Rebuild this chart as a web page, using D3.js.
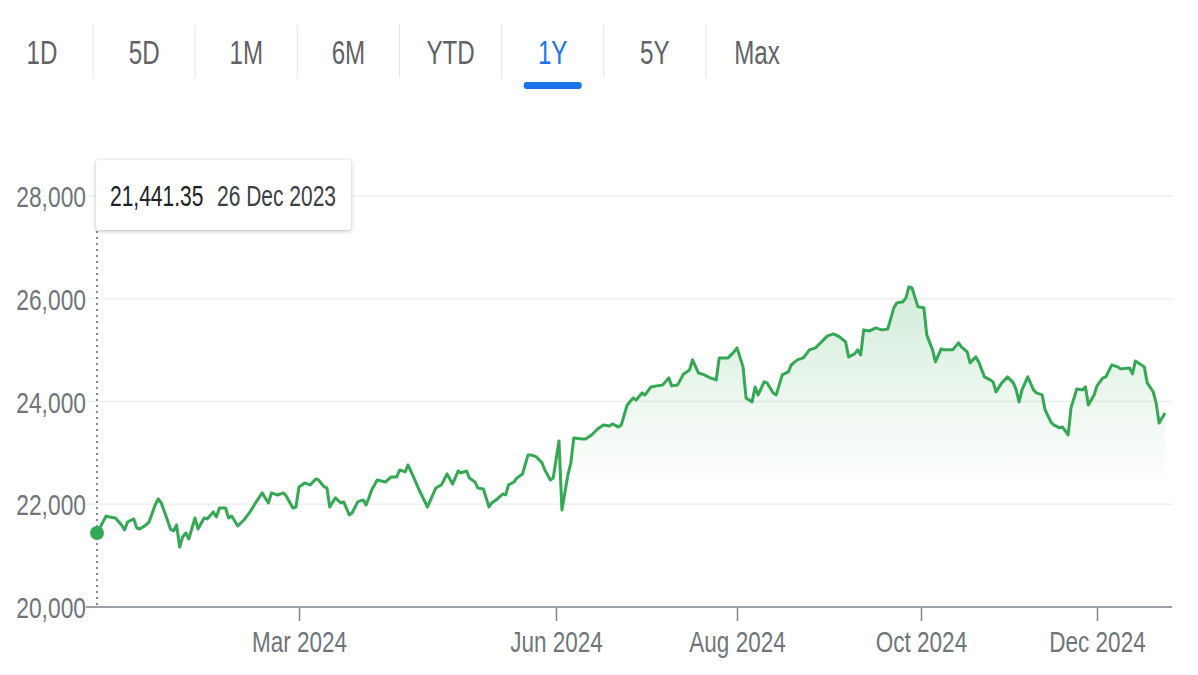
<!DOCTYPE html>
<html>
<head>
<meta charset="utf-8">
<script src="https://cdn.jsdelivr.net/npm/d3@7"></script>
<style>
  html, body { margin: 0; padding: 0; background: #fff; }
  svg { display: block; font-family: "Liberation Sans", Arial, sans-serif; }
</style>
</head>
<body>
<svg id="chart" width="1198" height="675"></svg>
<script>
// ---------------- data ----------------
const startDate = "2023-12-26";
// calendar-day offsets from startDate of each sampled close
const dayOffsets = [
  0,3,4,6,8,9,10,12,13,14,16,17,19,20,21,23,24,25,26,27,28,29,30,32,33,35,36,38,39,40,42,43,44,46,48,50,52,54,56,57,59,61,62,64,65,
  66,68,70,72,73,75,76,77,79,81,82,84,85,87,89,90,91,92,94,97,99,101,102,104,105,107,109,112,115,117,119,121,123,124,126,127,129,130,132,134,135,137,139,140,141,143,144,146,148,149,151,153,154,156,157,
  159,160,162,163,164,167,168,170,172,174,176,177,179,180,181,182,184,185,187,188,190,192,194,196,197,199,201,203,204,206,208,210,212,213,216,218,
  219,221,222,224,225,226,228,229,231,232,234,236,237,239,241,243,245,247,249,251,253,255,256,258,259,260,261,263,265,267,269,271,272,274,275,276,277,279,
  281,282,284,285,287,288,291,293,294,296,297,299,300,302,304,305,306,308,310,312,313,314,315,317,319,320,322,323,325,326,328,329,331,332,334,336,337,338,340,
  341,343,344,346,348,349,352,353,354,357,358,360,361,362,364
];
const closeValues = [
  21441.35,21772,21753,21733,21597,21499,21655,21714,21538,21519,21597,21655,21986,22103,22025,21694,21519,21480,21597,21168,21363,21441,21324,21733,21519,21733,21714,21850,21753,21928,21928,21733,21772,21577,21694,21850,22045,22220,22025,22220,22181,22220,22142,21928,21947,
  22337,22415,22376,22493,22473,22337,22317,21947,22123,22025,22045,21792,21830,22045,22084,21986,22123,22278,22473,22434,22532,22532,22668,22629,22765,22532,22278,21947,22317,22376,22590,22395,22648,22610,22648,22512,22434,22317,22298,21947,22025,22103,22200,22181,22376,22434,22512,22590,22960,22960,22921,22804,22668,22473,22512,
  23233,21889,22570,22804,23291,23272,23272,23349,23466,23544,23525,23564,23505,23544,23739,23933,24069,24031,24167,24128,24284,24304,24323,24460,24304,24323,24537,24615,24810,24557,24518,24460,24420,24849,24849,24966,
  25044,24674,24069,23992,24284,24128,24382,24362,24167,24128,24518,24576,24712,24810,24849,25005,25044,25161,25277,25316,25258,25161,24868,24927,25005,24907,25394,25374,25433,25394,25413,25823,25920,25940,26017,26232,26212,25842,
  25823,25297,25005,24771,25024,25005,25005,25141,25063,24966,24752,24868,24771,24479,24420,24382,24187,24362,24479,24362,24226,23992,24226,24479,24226,24167,24128,23836,23603,23544,23486,23505,23349,23875,24245,24226,24284,23933,24128,
  24304,24460,24479,24712,24674,24635,24654,24537,24790,24674,24362,24187,23973,23583,23778
];
const yTicks = [20000, 22000, 24000, 26000, 28000];
const xTickDates = ["2024-03-01", "2024-06-01", "2024-08-01", "2024-10-01", "2024-12-01"];
const xTickLabels = ["Mar 2024", "Jun 2024", "Aug 2024", "Oct 2024", "Dec 2024"];
const rangeTabs = ["1D", "5D", "1M", "6M", "YTD", "1Y", "5Y", "Max"];
const selectedTab = "1Y";
const endDate = "2024-12-24";

// ---------------- setup ----------------
const parse = d3.utcParse("%Y-%m-%d");
const d0 = parse(startDate);
const data = dayOffsets.map((o, i) => ({ date: d3.utcDay.offset(d0, o), value: closeValues[i] }));
const tickDates = xTickDates.map(parse);

const svg = d3.select("#chart");
const GREEN = "#34a853";
const GRAY_TEXT = "#70757a";

// condense text horizontally (the reference glyphs are narrow)
function condense(sel, f) {
  sel.each(function () {
    const w = this.getComputedTextLength();
    d3.select(this).attr("textLength", w * f).attr("lengthAdjust", "spacingAndGlyphs");
  });
}

// Trading-day axis: piecewise time scale anchored on month ticks
const x = d3.scaleUtc()
  .domain([d0, ...tickDates, parse(endDate)])
  .range([97, 299, 556, 737, 921, 1097, 1165]);
const y = d3.scaleLinear().domain([20000, 28000]).range([607, 196]);
const plotLeft = 86, plotRight = 1172;

// ---------------- tabs ----------------
const tabX = d3.scalePoint().domain(rangeTabs).range([42, 757]);
const tabs = svg.append("g");
tabs.selectAll("line.sep")
  .data(rangeTabs.slice(1))
  .join("line")
  .attr("x1", d => tabX(d) - tabX.step() / 2)
  .attr("x2", d => tabX(d) - tabX.step() / 2)
  .attr("y1", 25).attr("y2", 78)
  .attr("stroke", "#e3e5e8").attr("stroke-width", 1);
tabs.selectAll("text")
  .data(rangeTabs)
  .join("text")
  .attr("x", d => tabX(d))
  .attr("y", 64)
  .attr("text-anchor", "middle")
  .attr("font-size", 34)
  .attr("fill", d => d === selectedTab ? "#1a73e8" : "#5f6368")
  .text(d => d)
  .call(condense, 0.71);
tabs.append("rect")
  .attr("x", tabX(selectedTab) - 29).attr("y", 82)
  .attr("width", 58).attr("height", 7).attr("rx", 3)
  .attr("fill", "#1a73e8");

// ---------------- gridlines & y labels ----------------
const grid = svg.append("g");
grid.selectAll("line")
  .data(yTicks.slice(1))
  .join("line")
  .attr("x1", plotLeft).attr("x2", plotRight)
  .attr("y1", d => y(d)).attr("y2", d => y(d))
  .attr("stroke", "#eeeff1").attr("stroke-width", 1.5);

const yAxis = svg.append("g")
  .attr("transform", `translate(${plotLeft},0)`)
  .call(d3.axisLeft(y).tickValues(yTicks).tickFormat(d3.format(",")).tickSize(0).tickPadding(0));
yAxis.select(".domain").remove();
yAxis.selectAll("text")
  .attr("font-size", 30)
  .attr("font-family", "Liberation Sans, Arial, sans-serif")
  .attr("fill", GRAY_TEXT)
  .attr("dy", "0.35em")
  .call(condense, 0.76);

// ---------------- area + line ----------------
const defs = svg.append("defs");
const grad = defs.append("linearGradient")
  .attr("id", "areaGrad")
  .attr("gradientUnits", "userSpaceOnUse")
  .attr("x1", 0).attr("x2", 0)
  .attr("y1", y(d3.max(closeValues))).attr("y2", y(22300));
grad.append("stop").attr("offset", 0).attr("stop-color", GREEN).attr("stop-opacity", 0.22);
grad.append("stop").attr("offset", 0.6).attr("stop-color", GREEN).attr("stop-opacity", 0.08);
grad.append("stop").attr("offset", 1).attr("stop-color", GREEN).attr("stop-opacity", 0);

svg.append("path")
  .datum(data)
  .attr("fill", "url(#areaGrad)")
  .attr("d", d3.area().x(d => x(d.date)).y0(y(20000)).y1(d => y(d.value)));

// ---------------- x axis ----------------
const xAxis = svg.append("g")
  .attr("transform", `translate(0,${y(20000)})`)
  .call(d3.axisBottom(x).tickValues(tickDates).tickFormat((d, i) => xTickLabels[i]).tickSize(14).tickPadding(10).tickSizeOuter(0));
xAxis.select(".domain").remove();
xAxis.selectAll(".tick line").attr("stroke", "#80868b").attr("stroke-width", 1.5);
xAxis.selectAll("text")
  .attr("font-size", 30)
  .attr("font-family", "Liberation Sans, Arial, sans-serif")
  .attr("fill", GRAY_TEXT)
  .attr("dy", "0.71em")
  .call(condense, 0.75);
svg.append("line")
  .attr("x1", plotLeft).attr("x2", plotRight)
  .attr("y1", y(20000)).attr("y2", y(20000))
  .attr("stroke", "#9aa0a6").attr("stroke-width", 2);

svg.append("path")
  .datum(data)
  .attr("fill", "none")
  .attr("stroke", GREEN)
  .attr("stroke-width", 3)
  .attr("stroke-linejoin", "round")
  .attr("d", d3.line().x(d => x(d.date)).y(d => y(d.value)));

// ---------------- hover marker & tooltip ----------------
const first = data[0];
svg.append("line")
  .attr("x1", x(first.date)).attr("x2", x(first.date))
  .attr("y1", 231).attr("y2", y(20000))
  .attr("stroke", "#5f6368").attr("stroke-width", 1.5)
  .attr("stroke-dasharray", "2,4");
svg.append("circle")
  .attr("cx", x(first.date)).attr("cy", y(first.value))
  .attr("r", 7).attr("fill", GREEN);

const tip = svg.append("g");
tip.append("rect")
  .attr("x", 96).attr("y", 160).attr("width", 255).attr("height", 70).attr("rx", 3)
  .attr("fill", "#fff")
  .style("filter", "drop-shadow(0px 1px 2px rgba(60,64,67,0.35))");
// narrow glyphs via a horizontal scale on the text group
const tipScale = 0.70;
const tipTexts = tip.append("g")
  .attr("transform", `translate(110,206) scale(${tipScale},1)`)
  .attr("font-size", 30);
tipTexts.append("text")
  .attr("x", 0)
  .attr("fill", "#202124")
  .text(d3.format(",.2f")(first.value));
tipTexts.append("text")
  .attr("x", (217 - 110) / tipScale)
  .attr("fill", "#3c4043")
  .text(d3.utcFormat("%-d %b %Y")(first.date));
</script>
</body>
</html>
